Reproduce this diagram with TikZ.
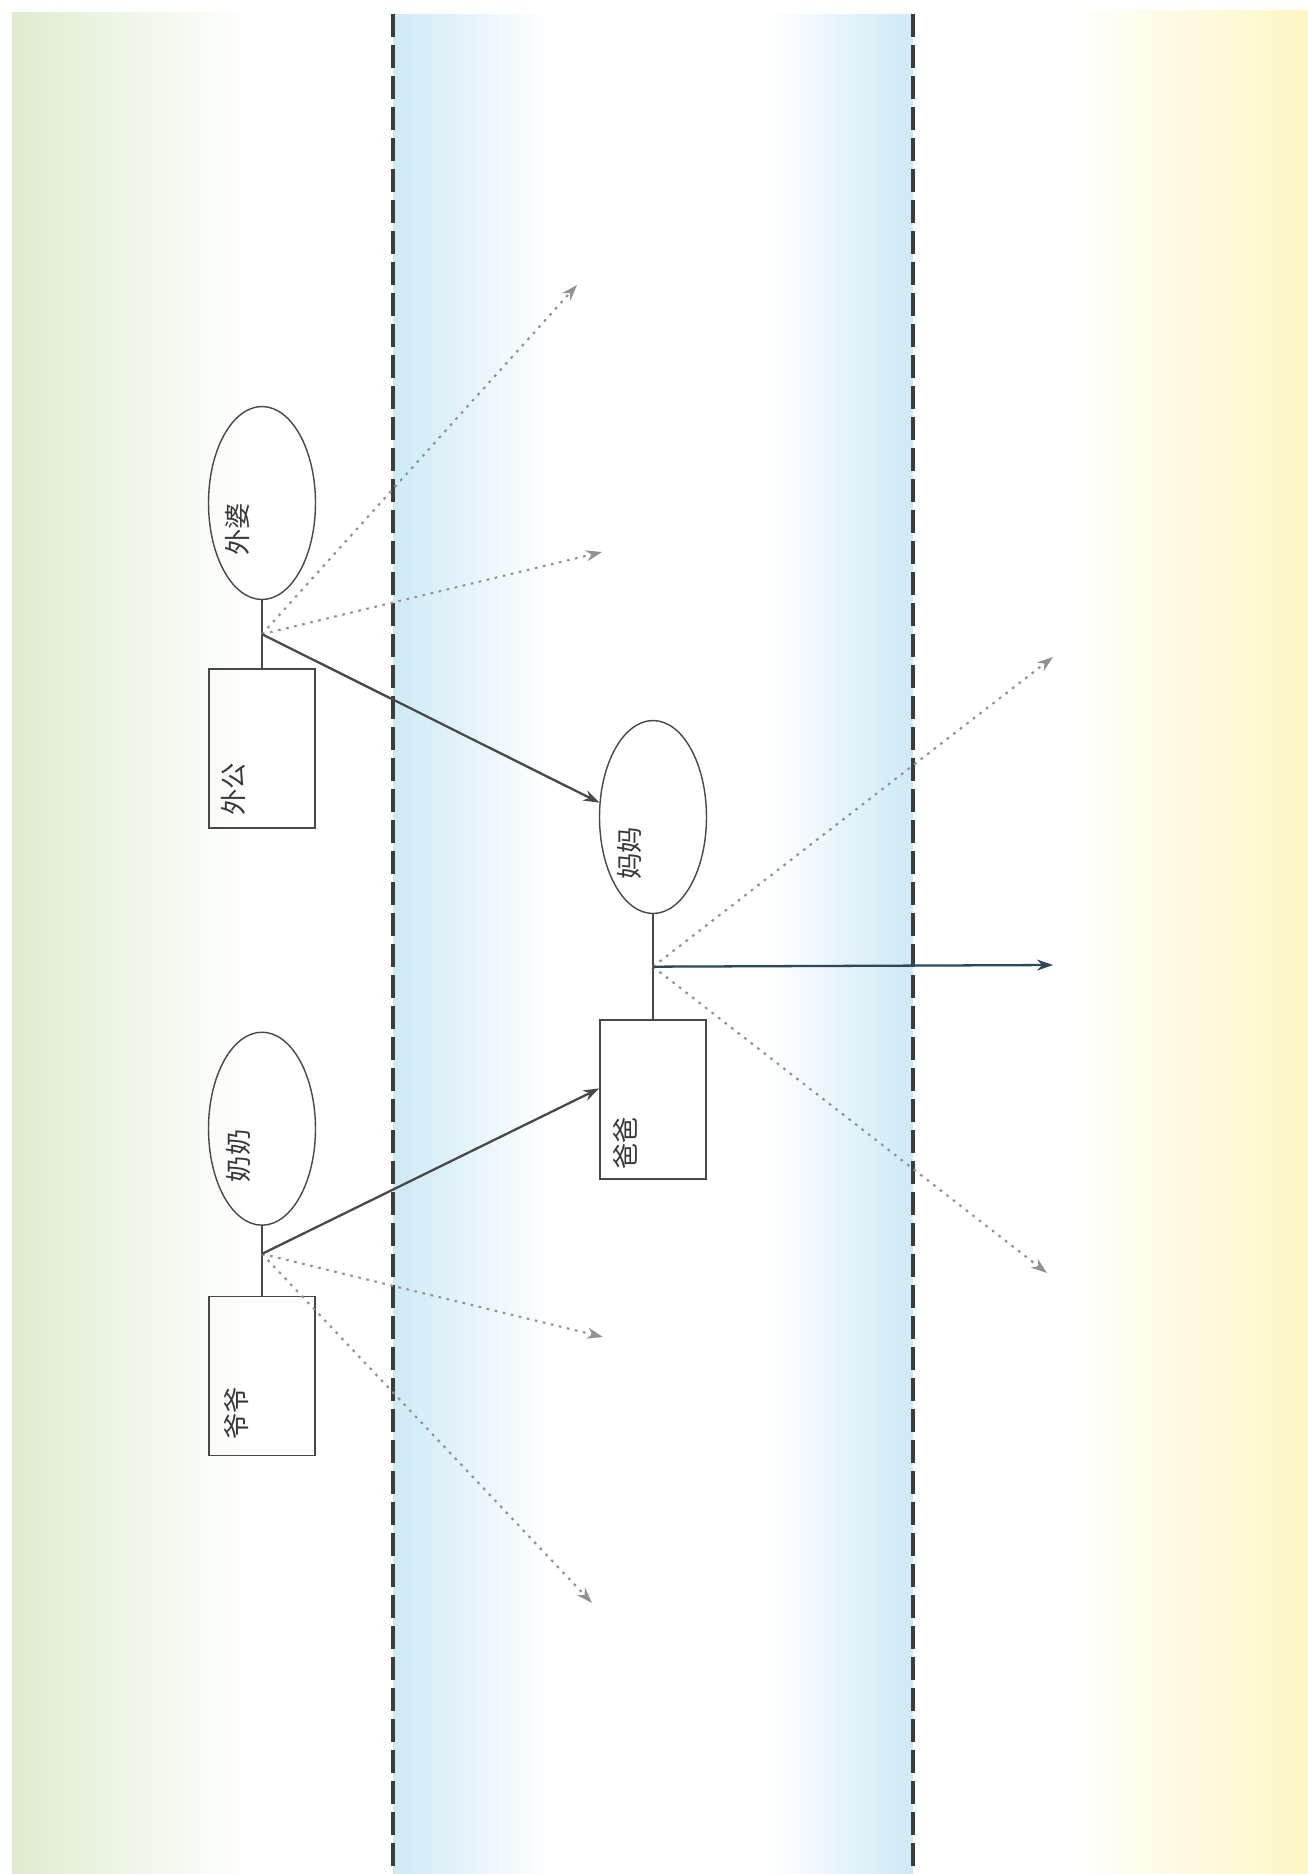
\documentclass[tikz,border=0pt]{standalone}
\usepackage{fontspec}
\newfontfamily\cjk{Noto Sans CJK SC}
\usetikzlibrary{positioning,shapes.geometric,arrows.meta,calc}
\definecolor{linegray}{RGB}{72,72,72}
\definecolor{dotgray}{RGB}{145,145,145}
\definecolor{textgray}{RGB}{55,55,55}
\definecolor{bordergray}{RGB}{60,60,60}
\definecolor{outblue}{RGB}{45,72,92}
\definecolor{leftgreen}{RGB}{222,236,206}
\definecolor{rightyellow}{RGB}{253,247,196}
\definecolor{bandblue}{RGB}{205,234,246}
\pgfdeclarehorizontalshading{band}{100bp}{color(0bp)=(bandblue); color(25bp)=(bandblue); color(40bp)=(white); color(61bp)=(white); color(75bp)=(bandblue); color(100bp)=(bandblue)}
\tikzset{
semithick, % all lines semithick
>={Stealth[length=3.2mm,width=2.2mm]},
female/.style={draw=linegray,ellipse,minimum width=2.14cm,minimum height=3.86cm,inner sep=0pt,line width=0.8pt},
male/.style={draw=linegray,rectangle,minimum width=2.12cm,minimum height=3.18cm,inner sep=0pt,line width=0.8pt},
name text/.style={rotate=90,text=textgray,font=\cjk\fontsize{15pt}{15pt}\selectfont,inner sep=0pt},
tie/.style={draw=linegray,line width=1.2pt},
passed/.style={->,draw=linegray,line width=1.3pt},
not passed/.style={->,draw=dotgray,line width=1.2pt,dash pattern=on 1.5pt off 3.2pt},
border/.style={draw=bordergray,line width=1.8pt,dash pattern=on 0.46cm off 0.16cm},
}
\begin{document}
\begin{tikzpicture}[x=0.02cm,y=-0.02cm]
\useasboundingbox (0,0) rectangle (1308,1874);
% background
\fill[white] (0,0) rectangle (1308,1874);
\shade[left color=leftgreen,right color=white] (12,12) rectangle (250,1874);
\shade[left color=white,right color=rightyellow] (1060,10) rectangle (1308,1874);
\shade[shading=band] (393,14) rectangle (913,1874);

\coordinate (lt) at (393,14);  \coordinate (lb) at (393,1874);
\coordinate (rt) at (913,14);  \coordinate (rb) at (913,1874);
\draw[border] (lt) -- (lb);
\draw[border] (rt) -- (rb);

% family
\node[female,label={[name=wp-t,xshift=-0.5cm,yshift=-0.52cm,name text]center:外婆}] (wp) at (262,503) {};
\node[male,label={[name=wg-t,xshift=-0.58cm,yshift=-0.82cm,name text]center:外公}] (wg) [below=1.36cm of wp] {};
\node[female,label={[name=nn-t,xshift=-0.48cm,yshift=-0.54cm,name text]center:奶奶}] (nn) [below=4.06cm of wg] {};
\node[male,label={[name=yy-t,xshift=-0.52cm,yshift=-0.74cm,name text]center:爷爷}] (yy) [below=1.4cm of nn] {};
\node[female,label={[name=mm-t,xshift=-0.48cm,yshift=-0.72cm,name text]center:妈妈}] (mm) at (653,817) {};
\node[male,label={[name=bb-t,xshift=-0.56cm,yshift=-0.88cm,name text]center:爸爸}] (bb) [below=2.1cm of mm] {};

\draw[tie] (wp) -- (wg);
\draw[tie] (nn) -- (yy);
\draw[tie] (mm) -- (bb);
\coordinate (j1) at ($(wp.south)!0.5!(wg.north)$);
\coordinate (j2) at ($(nn.south)!0.4!(yy.north)$);
\coordinate (j3) at ($(mm.south)!0.5!(bb.north)$);

% free ends
\coordinate (o1) at (577,285);
\coordinate (o2) at (602,552);
\coordinate (o3) at (603,1337);
\coordinate (o4) at (592,1603);
\coordinate (o5) at (1053,657);
\coordinate (o6) at (1047,1273);
\coordinate (o7) at (1053,965);

\draw[not passed] (j1) -- (o1);
\draw[not passed] (j1) -- (o2);
\draw[not passed] (j2) -- (o3);
\draw[not passed] (j2) -- (o4);
\draw[not passed] (j3) -- (o5);
\draw[not passed] (j3) -- (o6);

\draw[passed] (j1) -- (mm.165);
\draw[passed] (j2) -- ([yshift=0.22cm]bb.west);
\draw[passed,draw=outblue] (j3) -- (o7);
\end{tikzpicture}
\end{document}
